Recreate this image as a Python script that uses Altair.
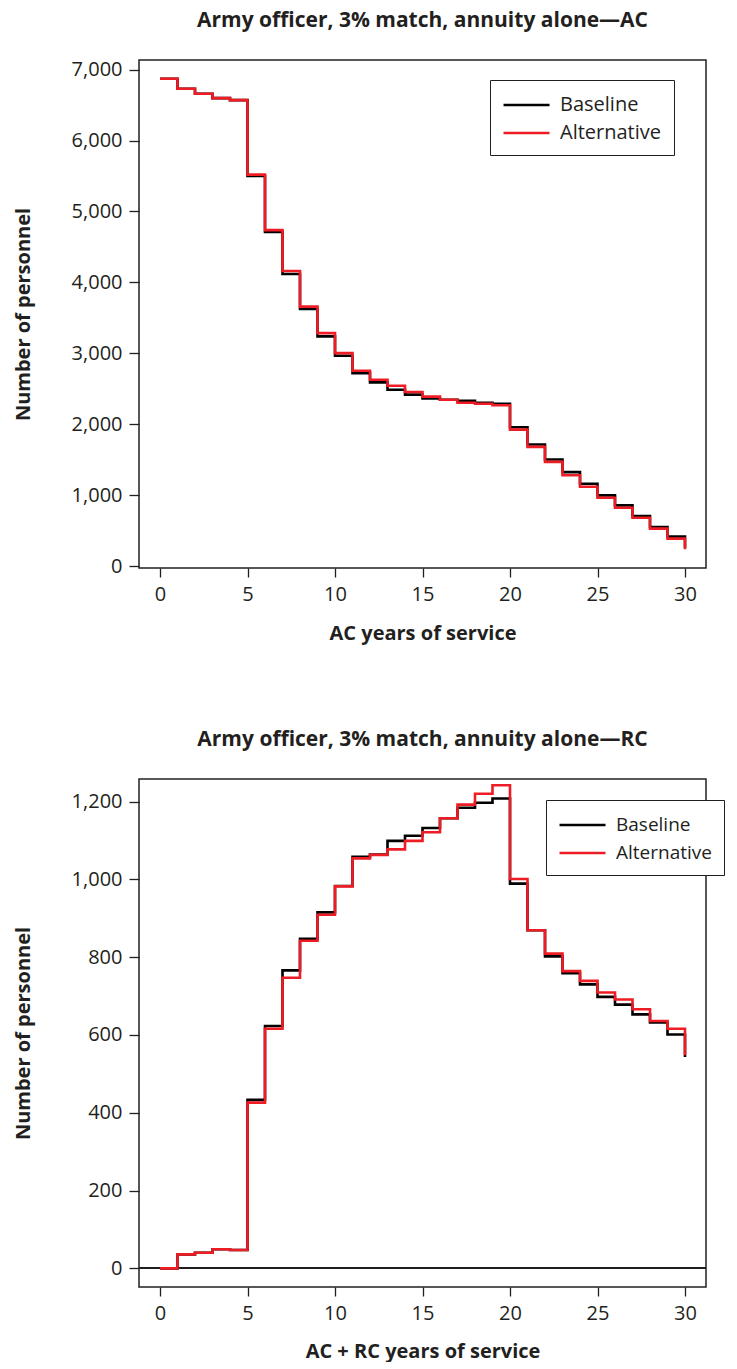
import altair as alt
import pandas as pd

years = list(range(31))

ac_baseline = [6870, 6729, 6659, 6597, 6569, 5500, 4713, 4119, 3627, 3240,
               2966, 2722, 2591, 2488, 2418, 2365, 2347, 2330, 2305, 2290,
               1958, 1715, 1504, 1326, 1162, 998, 857, 707, 552, 417, 260]
ac_alternative = [6870, 6729, 6659, 6597, 6569, 5520, 4737, 4161, 3659, 3285,
                  3004, 2755, 2629, 2544, 2455, 2390, 2347, 2305, 2291, 2268,
                  1926, 1682, 1471, 1283, 1120, 965, 825, 684, 530, 389, 240]

rc_baseline = [0, 36, 40, 49, 47, 433, 623, 766, 847, 915,
               983, 1058, 1064, 1099, 1112, 1132, 1157, 1184, 1197, 1208,
               989, 869, 802, 759, 730, 698, 678, 653, 632, 601, 543]
rc_alternative = [0, 36, 40, 49, 47, 426, 616, 747, 842, 909,
                  982, 1054, 1063, 1077, 1099, 1121, 1157, 1192, 1220, 1242,
                  1001, 869, 809, 764, 739, 709, 691, 666, 636, 616, 548]

series_names = ["Baseline", "Alternative"]
series_colors = ["#000000", "#ee1c25"]

x_ticks = [0, 5, 10, 15, 20, 25, 30]
ac_y_ticks = [0, 1000, 2000, 3000, 4000, 5000, 6000, 7000]
rc_y_ticks = [0, 200, 400, 600, 800, 1000, 1200]

FONT = "Open Sans"
TXT = "#231f20"


def long_df(base, alt_vals):
    return pd.DataFrame({
        "year": years * 2,
        "value": base + alt_vals,
        "series": ["Baseline"] * len(years) + ["Alternative"] * len(years),
    })


def panel(df, title, xtitle, yticks, ydomain, height, legend_x, legend_y,
          legend_font=20, xtitle_pad=19, zero_rule=False):
    xscale = alt.Scale(domain=[-1.2, 31.2], nice=False, zero=False)
    yscale = alt.Scale(domain=ydomain, nice=False, zero=False)
    color = alt.Color(
        "series:N",
        scale=alt.Scale(domain=series_names, range=series_colors),
        legend=alt.Legend(
            title=None, orient="none", legendX=legend_x, legendY=legend_y,
            strokeColor=TXT, padding=12, symbolType="M-1,0H3",
            symbolStrokeWidth=2.6, symbolSize=529, labelFontSize=legend_font,
            labelFont=FONT, labelColor=TXT, labelOffset=32, rowPadding=5,
            fillColor="white",
        ),
    )
    x = alt.X("year:Q", scale=xscale,
              axis=alt.Axis(values=x_ticks, title=xtitle, grid=False, domain=False,
                            tickSize=9, tickColor=TXT, tickWidth=1.3, labelFontSize=20,
                            labelFont=FONT, labelColor=TXT, labelPadding=7,
                            titleFontSize=20, titleFont=FONT, titleColor=TXT,
                            titleFontWeight="bold", titlePadding=xtitle_pad))
    y = alt.Y("value:Q", scale=yscale,
              axis=alt.Axis(values=yticks, format=",d", title="Number of personnel",
                            grid=False, domain=False, tickSize=10, tickColor=TXT,
                            tickWidth=1.3, labelFontSize=20, labelFont=FONT,
                            labelColor=TXT, labelPadding=7, titleFontSize=20,
                            titleFont=FONT, titleColor=TXT, titleFontWeight="bold",
                            titleX=-106))
    layers = []
    if zero_rule:
        layers.append(alt.Chart(df).mark_rule(color=TXT, strokeWidth=1.3).encode(
            y=alt.datum(0, scale=yscale)))
    base_line = alt.Chart(df).transform_filter(alt.datum.series == "Baseline").mark_line(
        interpolate="step-after", strokeWidth=2.6).encode(x=x, y=y, color=color)
    alt_line = alt.Chart(df).transform_filter(alt.datum.series == "Alternative").mark_line(
        interpolate="step-after", strokeWidth=2.6).encode(x=x, y=y, color=color)
    layers += [base_line, alt_line]
    return alt.layer(*layers).properties(
        width=567, height=height,
        title=alt.Title(title, fontSize=21, font=FONT, fontWeight="bold", color=TXT,
                        anchor="middle", offset=29),
    )


top = panel(long_df(ac_baseline, ac_alternative),
            "Army officer, 3% match, annuity alone\u2014AC", "AC years of service",
            ac_y_ticks, [-25, 7135], 508, 351, 20)
bottom = panel(long_df(rc_baseline, rc_alternative),
               "Army officer, 3% match, annuity alone\u2014RC", "AC + RC years of service",
               rc_y_ticks, [-48, 1258], 508, 407, 21, legend_font=19, xtitle_pad=18,
               zero_rule=True)

chart = alt.vconcat(top, bottom, spacing=84).resolve_legend(
    color="independent"
).properties(
    padding={"top": 0, "left": 4, "right": 0, "bottom": 0}
).configure_view(
    stroke=TXT, strokeWidth=1.5
)

chart.save("out.html", embed_options={"renderer": "svg", "actions": False})
